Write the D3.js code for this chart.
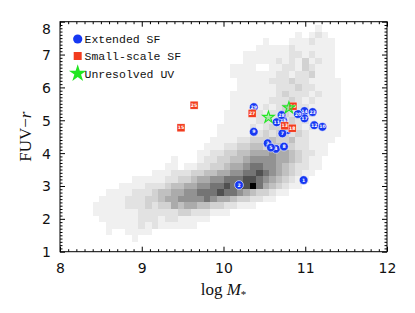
<!DOCTYPE html>
<html><head><meta charset="utf-8">
<script src="https://cdn.jsdelivr.net/npm/d3@7"></script>
<style>body{margin:0;background:#fff}svg{display:block}</style>
</head><body>
<svg id="c" width="415" height="313"></svg>
<script>
// ---------- data ----------
const xTicks = [8, 9, 10, 11, 12];
const yTicks = [1, 2, 3, 4, 5, 6, 7, 8];

// 2D histogram of the comparison sample (grey levels 0-9), bins 0.08 dex x 0.2 mag
const histBinX0 = 8, histBinW = 0.08, histBinH = 0.2;
const histY = [7.8,7.6,7.4,7.2,7.0,6.8,6.6,6.4,6.2,6.0,5.8,5.6,5.4,5.2,5.0,4.8,4.6,4.4,4.2,4.0,3.8,3.6,3.4,3.2,3.0,2.8,2.6,2.4,2.2,2.0,1.8,1.6,1.4];
const histStart = [39,36,31,30,28,28,26,26,27,27,26,26,26,25,25,24,24,23,22,21,17,16,14,11,9,7,6,5,5,6,7,7,11];
const histLevels = ["1","10121","10001112111","111112111111","11111112212111","11111212131211",
 "1111001122132111","1111111221223111","1111122232211111","1111112223221111","11111112322212111",
 "11111122232121111","11111212322211111","111112122322121111","111112223232211111",
 "1111121233232121111","1111122323323211111","1111223334334221111","1112233443443322111",
 "11223344555655432211","10001223344566665543211","110112233455677665432211",
 "1112223344556677876543211","111112233455667778876543211","1111222344556677878897543211",
 "1111222344556677787765433211","111122233455666676554332211","1111122232335455443322111",
 "111111122222233222111","11111122212211111","11111212111111","1001111","1"];

// Extended SF (blue circles)
const extLabel = ["1","2","3","4","5","6","7","8","9","10","11","12","14","16","17","20","23","28","29"];
const extX = [10.98,10.19,10.54,10.64,10.58,10.78,10.72,10.74,10.37,11.21,10.65,11.11,10.99,10.73,10.99,10.91,11.09,10.71,10.37];
const extY = [3.18,3.03,4.30,4.13,4.17,4.70,4.60,4.20,4.65,4.80,4.94,4.85,5.28,4.99,5.06,5.19,5.25,5.16,5.40];
// Small-scale SF (red squares)
const smallLabel = ["15","25","27","13","18","30"];
const smallX = [9.48,9.64,10.35,10.75,10.84,10.85];
const smallY = [4.77,5.46,5.21,4.83,4.76,5.43];
// Unresolved UV (green stars)
const starX = [10.55,10.80];
const starY = [5.09,5.38];

const legendLabels = ["Extended SF", "Small-scale SF", "Unresolved UV"];

// ---------- drawing ----------
const L = 60, R = 387, T = 21.7, B = 251.7;
const svg = d3.select("#c");
const x = d3.scaleLinear().domain([8, 12]).range([L, R]);
const y = d3.scaleLinear().domain([1, 8]).range([B, T]);
const grey = d3.scaleOrdinal().domain(d3.range(0,10))
  .range(["#ffffff","#f0f0f0","#e2e2e2","#d2d2d2","#c0c0c0","#ababab","#929292","#747474","#505050","#000000"]);

const cells = [];
histLevels.forEach((s, r) => {
  for (let k = 0; k < s.length; k++) {
    const v = +s[k];
    if (v > 0) {
      const i = histStart[r] + k;
      cells.push({x0: histBinX0 + i*histBinW, x1: histBinX0 + (i+1)*histBinW,
                  y0: histY[r] - histBinH/2, y1: histY[r] + histBinH/2, v});
    }
  }
});
svg.append("g").selectAll("rect").data(cells).join("rect")
  .attr("x", d => Math.round(x(d.x0)))
  .attr("width", d => Math.round(x(d.x1)) - Math.round(x(d.x0)))
  .attr("y", d => Math.round(y(d.y1)))
  .attr("height", d => Math.round(y(d.y0)) - Math.round(y(d.y1)))
  .attr("fill", d => grey(d.v))
  .attr("shape-rendering", "crispEdges");

// axes with inward ticks on all four sides
function minorVals(a, b) { const out = []; for (let k = Math.round(a*10); k <= Math.round(b*10); k++) if (k % 10) out.push(k/10); return out; }
const axFont = "DejaVu Sans";
function styleAxis(g) { g.select(".domain").remove(); g.selectAll("line").attr("stroke", "#000").attr("stroke-width", 1); }

svg.append("g").attr("transform", `translate(0,${B})`)
  .call(d3.axisBottom(x).tickValues(xTicks).tickSize(-5).tickPadding(11).tickFormat(d3.format("d")))
  .call(styleAxis).call(g => g.selectAll("text").attr("font-family", axFont).attr("font-size", 14).attr("fill", "#111"));
svg.append("g").attr("transform", `translate(0,${B})`)
  .call(d3.axisBottom(x).tickValues(minorVals(8, 12)).tickSize(-2.5).tickFormat(""))
  .call(styleAxis);
svg.append("g").attr("transform", `translate(0,${T})`)
  .call(d3.axisTop(x).tickValues(xTicks).tickSize(-5).tickFormat("")).call(styleAxis);
svg.append("g").attr("transform", `translate(0,${T})`)
  .call(d3.axisTop(x).tickValues(minorVals(8, 12)).tickSize(-2.5).tickFormat("")).call(styleAxis);

svg.append("g").attr("transform", `translate(${L},0)`)
  .call(d3.axisLeft(y).tickValues(yTicks).tickSize(-5).tickPadding(9).tickFormat(d3.format("d")))
  .call(styleAxis).call(g => g.selectAll("text").attr("font-family", axFont).attr("font-size", 14).attr("fill", "#111")
     .attr("dy", d => d === 8 ? "0.85em" : "0.35em"));
svg.append("g").attr("transform", `translate(${L},0)`)
  .call(d3.axisLeft(y).tickValues(minorVals(1, 8)).tickSize(-2.5).tickFormat("")).call(styleAxis);
svg.append("g").attr("transform", `translate(${R},0)`)
  .call(d3.axisRight(y).tickValues(yTicks).tickSize(-5).tickFormat("")).call(styleAxis);
svg.append("g").attr("transform", `translate(${R},0)`)
  .call(d3.axisRight(y).tickValues(minorVals(1, 8)).tickSize(-2.5).tickFormat("")).call(styleAxis);

svg.append("rect").attr("x", L).attr("y", T).attr("width", R-L).attr("height", B-T)
  .attr("fill", "none").attr("stroke", "#000").attr("stroke-width", 1);

// axis titles
const xt = svg.append("text").attr("x", (L+R)/2).attr("y", 295).attr("text-anchor", "middle")
  .attr("font-family", "Liberation Serif").attr("font-size", 17).attr("fill", "#111");
xt.append("tspan").text("log ");
xt.append("tspan").attr("font-style", "italic").text("M");
xt.append("tspan").attr("font-size", 11).attr("dy", 3).text("*");
const yt = svg.append("text").attr("transform", `translate(31,${(T+B)/2}) rotate(-90)`).attr("text-anchor", "middle")
  .attr("font-family", "Liberation Serif").attr("font-size", 17).attr("fill", "#111");
yt.append("tspan").text("FUV\u2212");
yt.append("tspan").attr("font-style", "italic").text("r");

// markers
const blue = "#1638f2", red = "#f23c1e", green = "#22e622";
const star = d3.symbol().type(d3.symbolStar);

const ext = svg.append("g").selectAll("g").data(extX.map((v, k) => ({x: v, y: extY[k], t: extLabel[k]}))).join("g")
  .attr("transform", d => `translate(${x(d.x)},${y(d.y)})`);
ext.append("circle").attr("r", 4.4).attr("fill", blue).attr("stroke", "#fff").attr("stroke-width", 0.6);
ext.append("text").text(d => d.t).attr("text-anchor", "middle").attr("dy", "0.35em")
  .attr("font-family", "DejaVu Sans").attr("font-weight", "bold").attr("font-size", 4.6).attr("fill", "#fff");

const sm = svg.append("g").selectAll("g").data(smallX.map((v, k) => ({x: v, y: smallY[k], t: smallLabel[k]}))).join("g")
  .attr("transform", d => `translate(${x(d.x)},${y(d.y)})`);
sm.append("rect").attr("x", -4).attr("y", -4).attr("width", 8).attr("height", 8).attr("fill", red).attr("stroke", "#fff").attr("stroke-width", 0.4);
sm.append("text").text(d => d.t).attr("text-anchor", "middle").attr("dy", "0.35em")
  .attr("font-family", "DejaVu Sans").attr("font-weight", "bold").attr("font-size", 4.6).attr("fill", "#fff");

svg.append("g").selectAll("path").data(starX.map((v, k) => ({x: v, y: starY[k]}))).join("path")
  .attr("d", star.size(42)()).attr("transform", d => `translate(${x(d.x)},${y(d.y)})`)
  .attr("fill", green).attr("fill-opacity", 0.3).attr("stroke", green).attr("stroke-width", 1.1);

// legend
const lg = svg.append("g");
const ly = [39, 56, 73.5];
lg.append("circle").attr("cx", 77.7).attr("cy", ly[0]).attr("r", 4.6).attr("fill", blue);
lg.append("rect").attr("x", 73.7).attr("y", ly[1]-4).attr("width", 8).attr("height", 8).attr("fill", red);
lg.append("path").attr("d", star.size(95)()).attr("transform", `translate(77.7,${ly[2]})`).attr("fill", green);
lg.selectAll("text").data(legendLabels).join("text").attr("x", 84.5).attr("y", (d, k) => ly[k]).attr("dy", "0.36em")
  .attr("font-family", "Liberation Mono").attr("font-size", 11.5).attr("fill", "#111").text(d => d);
</script>
</body></html>
